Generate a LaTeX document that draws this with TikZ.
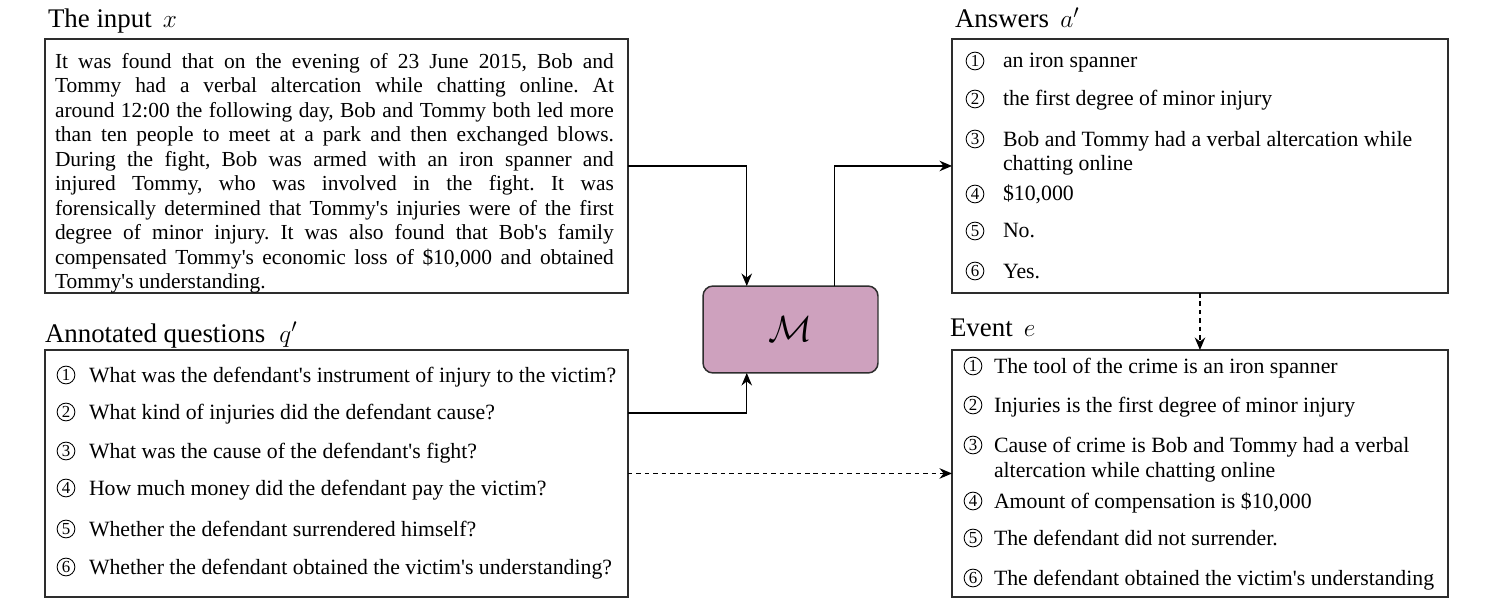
\documentclass[tikz,border=0pt]{standalone}
\usepackage{fontspec}
\setmainfont{Liberation Serif}[Ligatures=TeXOff]
\usetikzlibrary{arrows.meta,positioning,calc}
\definecolor{modelfill}{RGB}{206,161,190}
\definecolor{linegray}{RGB}{45,45,45}
\newcommand{\bodysize}{\fontsize{12.2}{13.95}\selectfont}
\newcommand{\itemsize}{\fontsize{12.4}{14}\selectfont}
\newcommand{\titlesize}{\fontsize{15.3}{18}\selectfont}

\begin{document}
\begin{tikzpicture}[x=0.02cm, y=-0.02cm,
  every node/.style={inner sep=0pt, outer sep=0pt},
  panel/.style={draw=linegray, line width=0.8pt, anchor=north west},
  heading/.style={anchor=base west, font=\titlesize},
  entry/.style={anchor=base west, font=\itemsize, align=left},
  numc/.style={circle, draw=black, line width=0.5pt, minimum size=0.355cm, font=\fontsize{9.6}{10}\selectfont},
  arr/.style={-{Stealth[length=0.25cm, width=0.21cm]}, line width=0.8pt}]
\useasboundingbox (0,0) rectangle (1493,604);

% headings
\node[heading] (tin) at (48,28) {The input\ \,$x$};
\node[heading] (tq) at (45,342) {Annotated questions\ \;$q'$};
\node[heading] (ta) at (955,28) {Answers\ \,$a'$};
\node[heading] (te) at (950,337) {Event\ \,$e$};

% frames
\node[panel, minimum width=11.66cm, minimum height=5.08cm] (input) at (45,39) {};
\node[panel, minimum width=11.66cm, minimum height=4.94cm] (quest) at (45,350) {};
\node[panel, minimum width=9.92cm, minimum height=5.08cm] (answ) at (952,39) {};
\node[panel, minimum width=9.92cm, minimum height=4.94cm] (event) at (952,350) {};

% the model
\node[draw=linegray, fill=modelfill, rounded corners=0.2cm, line width=0.85pt,
  minimum width=3.5cm, minimum height=1.74cm] (M) at (790.5,329.5)
  {\fontsize{22}{26}\selectfont$\mathcal{M}$};

% input text
\node[font=\bodysize, anchor=north west, text width=11.18cm, align=justify] (intext) at (55,53)
  {\tolerance=9999\frenchspacing It was found that on the evening of 23 June 2015, Bob and\linebreak
   Tommy had a verbal altercation while chatting online. At\linebreak
   around 12:00 the following day, Bob and Tommy both led more\linebreak
   than ten people to meet at a park and then exchanged blows.\linebreak
   During the fight, Bob was armed with an iron spanner and\linebreak
   injured Tommy, who was involved in the fight. It was\linebreak
   forensically determined that Tommy's injuries were of the first\linebreak
   degree of minor injury. It was also found that Bob's family\linebreak
   compensated Tommy's economic loss of \$10,000 and obtained\linebreak
   Tommy's understanding.};

% questions
\foreach \i/\yy/\txt in {1/382/{What was the defendant's instrument of injury to the victim?},
    2/419/{What kind of injuries did the defendant cause?},
    3/458/{What was the cause of the defendant's fight?},
    4/495/{How much money did the defendant pay the victim?},
    5/536/{Whether the defendant surrendered himself?},
    6/574/{Whether the defendant obtained the victim's understanding?}} {
  \node[numc] (qn\i) at (66,\yy-7) {\i};
  \node[entry] (q\i) at (89,\yy) {\txt};
}

% answers (circle baseline / last text baseline)
\foreach \i/\cy/\yy/\txt in {1/68/68/{an iron spanner},
    2/106/106/{the first degree of minor injury},
    3/146/171/{Bob and Tommy had a verbal altercation while\\chatting online},
    4/201/201/{\$10,000},
    5/238/238/{No.},
    6/278/278/{Yes.}} {
  \node[numc] (an\i) at (975,\cy-7) {\i};
  \node[entry] (a\i) at (1003,\yy) {\txt};
}

% event
\foreach \i/\cy/\yy/\txt in {1/373/373/{The tool of the crime is an iron spanner},
    2/412/412/{Injuries is the first degree of minor injury},
    3/452/477/{Cause of crime is Bob and Tommy had a verbal\\altercation while chatting online},
    4/508/508/{Amount of compensation is \$10,000},
    5/545/545/{The defendant did not surrender.},
    6/585/585/{The defendant obtained the victim's understanding}} {
  \node[numc] (en\i) at (973,\cy-7) {\i};
  \node[entry] (e\i) at (994,\yy) {\txt};
}

% connectors
\draw[arr] (input.east) -| ($(M.north west)!0.25!(M.north east)$);
\draw[arr] ([yshift=1.21cm]quest.east) -| ($(M.south west)!0.25!(M.south east)$);
\draw[arr] ($(M.north west)!0.75!(M.north east)$) |- (answ.west);
\draw[arr, dash pattern=on 2.6pt off 2.2pt] (quest.east) -- (event.west);
\draw[arr, dash pattern=on 2.6pt off 2.2pt] (answ.south) -- (event.north);
\end{tikzpicture}
\end{document}
